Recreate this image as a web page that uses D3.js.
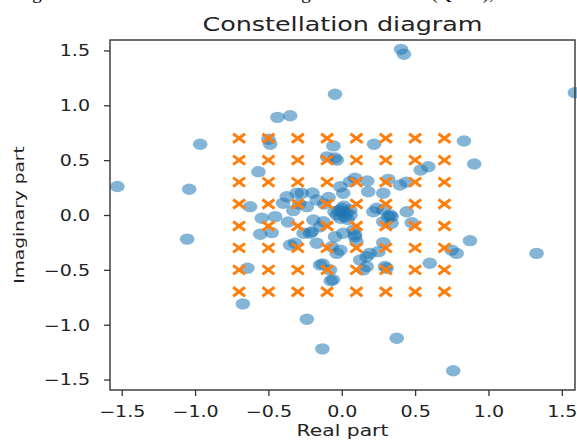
<!DOCTYPE html>
<html lang="en">
	<head>
		<meta charset="utf-8">
		<title>Constellation diagram</title>
		<script type="text/javascript" src="https://cdnjs.cloudflare.com/ajax/libs/d3/7.8.5/d3.min.js"></script>
		<style type="text/css">
			body { margin: 0; background: #fff; }
			text { font-family: "DejaVu Sans", sans-serif; fill: #222; }
		</style>
	</head>
	<body>
		<script type="text/javascript">
			// received symbols (real / imaginary parts)
			var realPart = [
				-1.53, -1.04, -0.965, -1.054, -0.439, -0.352, -0.046, 0.404, 0.424, 1.589,
				0.833, 0.903, 1.328, 0.874, 0.375, 0.76, -0.674, -0.238, -0.132, -0.643,
				0.6, 0.783, 0.749,
				-0.568, -0.488, -0.5, -0.057, -0.1, -0.046, 0.22, 0.538, 0.59, -0.625,
				-0.375, -0.307, -0.4, -0.545, -0.454, -0.366, -0.556, -0.477, -0.26, -0.204,
				-0.17, -0.352, -0.318, -0.125, -0.046, -0.13, -0.075, -0.06, -0.068, -0.034,
				0.397, 0.44, 0.174, 0.09, 0.317, 0.283, 0.18, 0.01, -0.01, 0.215,
				0.283, 0.34, 0.443, 0.33, 0.34, 0.283, 0.477, 0.283, 0.25, 0.17,
				0.125, 0.306, 0.147, 0.09, 0.08, 0.057, 0.238, -0.17, -0.238, -0.193,
				-0.148, -0.216, 0.01, 0.09, 0.1, -0.01, 0.19, 0.317, -0.148, -0.08,
				0.17, 0.295, -0.272, -0.034, -0.12, -0.09, -0.2, -0.29, -0.33,
				0.0, 0.02, -0.034, 0.057, -0.01, 0.03, 0.0, -0.02, 0.04, 0.06, -0.05, 0.015
			];
			var imagPart = [
				0.26, 0.235, 0.645, -0.22, 0.89, 0.905, 1.10, 1.51, 1.465, 1.115,
				0.675, 0.465, -0.35, -0.234, -1.124, -1.42, -0.81, -0.95, -1.22, -0.486,
				-0.44, -0.35, -0.32,
				0.395, 0.645, 0.69, 0.63, 0.53, 0.52, 0.645, 0.41, 0.44, 0.076,
				0.167, 0.198, 0.107, -0.03, -0.015, -0.064, -0.176, -0.161, -0.167, -0.152,
				-0.258, -0.273, -0.258, -0.061, -0.198, -0.447, -0.6, -0.59, -0.29, -0.35,
				0.273, 0.30, 0.31, 0.335, 0.325, 0.198, 0.212, 0.198, 0.258, 0.03,
				0.046, -0.015, 0.03, 0.0, -0.076, -0.061, -0.07, -0.252, -0.334, -0.38,
				-0.41, -0.486, -0.5, -0.18, -0.137, 0.304, 0.061, 0.137, 0.076, -0.046,
				-0.107, -0.167, -0.167, -0.198, -0.243, -0.32, -0.35, -0.015, -0.455, -0.5,
				-0.47, -0.47, 0.198, 0.5, 0.1, 0.16, 0.2, 0.1, 0.04,
				0.03, -0.015, 0.0, 0.046, -0.03, 0.02, 0.06, 0.04, -0.04, 0.0, 0.03, 0.08
			];
			// ideal 64-QAM levels (both axes)
			var qamLevels = [-0.7, -0.5, -0.3, -0.1, 0.1, 0.3, 0.5, 0.7];
			var tickValues = [-1.5, -1.0, -0.5, 0.0, 0.5, 1.0, 1.5];

			var w = 577, h = 440;
			var plotL = 110, plotR = 575, plotT = 40, plotB = 390;
			var sx = 1.27; // text is drawn a bit wide, like the picture

			var svg = d3.select("body").append("svg")
				.attr("width", w)
				.attr("height", h)
				.style("display", "block");

			var x = d3.scaleLinear().domain([-1.58, 1.59]).range([plotL, plotR]);
			var y = d3.scaleLinear().domain([-1.595, 1.595]).range([plotB, plotT]);

			// caption line cut off at the top of the picture
			svg.append("text")
				.attr("x", 16)
				.attr("y", -1)
				.attr("textLength", 478)
				.attr("lengthAdjust", "spacing")
				.style("font-family", "'Liberation Serif', serif")
				.style("font-size", "19px")
				.style("fill", "#000")
				.text("Figure 8: Received Constellation diagram with noise (QAM),");

			var received = realPart.map(function(d, i) { return [d, imagPart[i]]; });
			svg.append("g")
				.selectAll("ellipse")
				.data(received)
				.enter()
				.append("ellipse")
				.attr("cx", function(d) { return x(d[0]); })
				.attr("cy", function(d) { return y(d[1]); })
				.attr("rx", 7.3)
				.attr("ry", 5.7)
				.attr("fill", "#1f77b4")
				.attr("fill-opacity", 0.55);

			var ideal = [];
			qamLevels.forEach(function(re) {
				qamLevels.forEach(function(im) { ideal.push([re, im]); });
			});
			svg.append("g")
				.selectAll("path")
				.data(ideal)
				.enter()
				.append("path")
				.attr("d", function(d) {
					var cx = x(d[0]), cy = y(d[1]);
					return "M" + (cx - 6) + "," + (cy - 4.5) + "L" + (cx + 6) + "," + (cy + 4.5) +
						"M" + (cx - 6) + "," + (cy + 4.5) + "L" + (cx + 6) + "," + (cy - 4.5);
				})
				.attr("stroke", "#ff7f0e")
				.attr("stroke-width", 3)
				.attr("fill", "none");

			// frame
			svg.append("rect")
				.attr("x", plotL)
				.attr("y", plotT)
				.attr("width", plotR - plotL)
				.attr("height", plotB - plotT)
				.attr("fill", "none")
				.attr("stroke", "#333")
				.attr("stroke-width", 1.4);

			var fmt = d3.format(".1f");
			var xAxis = svg.append("g")
				.attr("transform", "translate(0," + plotB + ")")
				.call(d3.axisBottom(x).tickValues(tickValues).tickFormat(fmt).tickSize(6).tickSizeOuter(0));
			xAxis.select(".domain").remove();
			xAxis.selectAll(".tick line").attr("stroke", "#333").attr("stroke-width", 1.3);
			xAxis.selectAll(".tick text")
				.attr("y", 27)
				.attr("dy", null)
				.attr("transform", "scale(" + sx + ",1)")
				.style("font-size", "15px")
				.style("font-family", "DejaVu Sans")
				.attr("fill", "#222");

			var yAxis = svg.append("g")
				.attr("transform", "translate(" + plotL + ",0)")
				.call(d3.axisLeft(y).tickValues(tickValues).tickFormat(fmt).tickSize(6).tickSizeOuter(0));
			yAxis.select(".domain").remove();
			yAxis.selectAll(".tick line").attr("stroke", "#333").attr("stroke-width", 1.3);
			yAxis.selectAll(".tick text")
				.attr("x", -20 / sx)
				.attr("dy", "0.36em")
				.attr("transform", "scale(" + sx + ",1)")
				.style("font-size", "15px")
				.style("font-family", "DejaVu Sans")
				.attr("fill", "#222");

			// title and axis labels
			svg.append("text")
				.attr("transform", "translate(" + ((plotL + plotR) / 2) + ",31) scale(" + sx + ",1)")
				.attr("text-anchor", "middle")
				.style("font-size", "20px")
				.text("Constellation diagram");

			svg.append("text")
				.attr("transform", "translate(" + ((plotL + plotR) / 2) + ",436) scale(" + sx + ",1)")
				.attr("text-anchor", "middle")
				.style("font-size", "16px")
				.text("Real part");

			svg.append("text")
				.attr("transform", "translate(24," + ((plotT + plotB) / 2) + ") rotate(-90) scale(1.28,1)")
				.attr("text-anchor", "middle")
				.style("font-size", "14.5px")
				.text("Imaginary part");
		</script>
	</body>
</html>
